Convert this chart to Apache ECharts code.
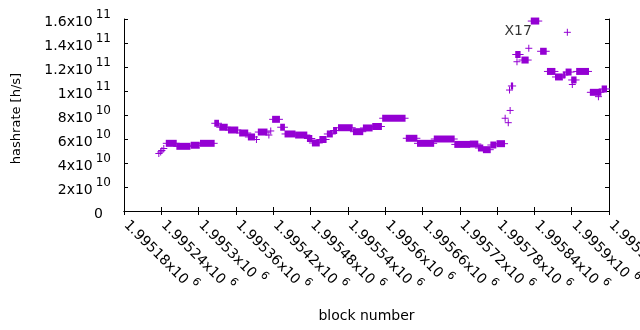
<!DOCTYPE html>
<html><head><meta charset="utf-8">
<script src="https://cdn.jsdelivr.net/npm/echarts@6/dist/echarts.min.js"></script>
<style>html,body{margin:0;padding:0;background:#fff}#c{width:640px;height:330px}</style>
</head><body><div id="c"></div>
<script>
// Runs of consecutive blocks sharing one hashrate estimate (a single block when start == end)
const runStart = [1995236,1995239,1995241,1995244,1995248,1995265,1995288,1995303,1995326,1995334,1995348,1995366,1995380,1995393,1995396,1995413,1995416,1995419,1995432,1995439,1995456,1995475,1995483,1995495,1995507,1995517,1995525,1995549,1995565,1995580,1995596,1995634,1995652,1995679,1995712,1995737,1995750,1995758,1995770,1995780,1995793,1995798,1995800,1995801,1995803,1995810,1995812,1995820,1995831,1995835,1995850,1995861,1995874,1995887,1995891,1995893,1995900,1995901,1995908,1995930,1995943,1995949];
const runEnd   = [1995236,1995239,1995241,1995244,1995264,1995286,1995301,1995325,1995332,1995346,1995363,1995379,1995390,1995393,1995410,1995413,1995416,1995430,1995438,1995455,1995474,1995482,1995494,1995505,1995515,1995522,1995547,1995564,1995579,1995594,1995632,1995651,1995678,1995711,1995736,1995749,1995757,1995769,1995778,1995792,1995793,1995798,1995800,1995801,1995805,1995817,1995812,1995830,1995831,1995847,1995859,1995873,1995885,1995889,1995899,1995893,1995907,1995901,1995927,1995947,1995943,1995956];
const runHashrate = [47.9e9,49.2e9,50.4e9,52.1e9,56.4e9,53.9e9,54.8e9,56.4e9,73.1e9,69.8e9,67.5e9,65.0e9,61.7e9,59.6e9,65.8e9,63.3e9,66.7e9,76.4e9,69.8e9,64.2e9,63.3e9,60.4e9,56.7e9,59.6e9,64.2e9,67.1e9,69.4e9,66.1e9,69.2e9,70.4e9,77.3e9,60.6e9,56.4e9,60.0e9,55.5e9,55.8e9,52.5e9,51.1e9,55.0e9,56.1e9,77.3e9,73.6e9,100.8e9,83.8e9,104.2e9,130.4e9,124.4e9,125.8e9,135.6e9,158.3e9,133.1e9,116.3e9,111.7e9,113.3e9,115.8e9,148.9e9,109.2e9,105.4e9,116.3e9,98.9e9,95.3e9,101.7e9];

const xTickLabels = ['1.99518','1.99524','1.9953','1.99536','1.99542','1.99548','1.99554','1.9956','1.99566','1.99572','1.99578','1.99584','1.9959','1.99596'];
const xTickExponent = '6';
const yTickMantissas = ['0','2','4','6','8','1','1.2','1.4','1.6'];
const yTickExponents = ['','10','10','10','10','11','11','11','11'];

const annotationText = 'X17';
const annotationBlock = 1995814;
const annotationHashrate = 1.5e11;

const xMin = 1995180, xMax = 1995960, xStep = 60;
const yMin = 0, yMax = 1.6e11, yStep = 2e10;

const FONT = "'DejaVu Sans', sans-serif";
const COLOR = '#9400d3';

const richX = {
  m: {fontFamily: FONT, fontSize: 14, color: '#000', lineHeight: 20, verticalAlign: 'bottom'},
  s: {fontFamily: FONT, fontSize: 11, color: '#000', lineHeight: 20, verticalAlign: 'top', padding: [0, 0, 0, 4]}
};
const richY = {
  m: {fontFamily: FONT, fontSize: 14, color: '#000', lineHeight: 20, verticalAlign: 'bottom'},
  z: {fontFamily: FONT, fontSize: 14, color: '#000', lineHeight: 20, verticalAlign: 'bottom', padding: [0, 8, 0, 0]},
  s: {fontFamily: FONT, fontSize: 12, color: '#000', lineHeight: 20, verticalAlign: 'top', padding: [0, 0, 0, 3]}
};

const chart = echarts.init(document.getElementById('c'), null, {renderer: 'canvas'});
const runs = runStart.map((s, i) => [s, runEnd[i], runHashrate[i]]);

const tickCommon = {show: true, inside: true, length: 4, lineStyle: {color: '#000', width: 1}};
const lineCommon = {show: true, lineStyle: {color: '#000', width: 1}};

chart.setOption({
  animation: false,
  backgroundColor: '#fff',
  grid: {left: 124, right: 31, top: 19, bottom: 119, containLabel: false, outerBoundsMode: 'none'},
  xAxis: [{
    type: 'value', min: xMin, max: xMax, interval: xStep, position: 'bottom',
    axisLine: lineCommon, axisTick: tickCommon, splitLine: {show: false},
    axisLabel: {
      rotate: -45, margin: 14, rich: richX, padding: [0, 0, 12, 0],
      formatter: v => {
        const i = Math.round((v - xMin) / xStep);
        return '{m|' + xTickLabels[i] + 'x10}{s|' + xTickExponent + '}';
      }
    },
    name: 'block number', nameLocation: 'middle', nameGap: 98,
    nameTextStyle: {fontFamily: FONT, fontSize: 14, color: '#000'}
  }, {
    type: 'value', min: xMin, max: xMax, interval: xStep, position: 'top',
    axisLine: lineCommon, axisTick: tickCommon, splitLine: {show: false},
    axisLabel: {show: false}
  }],
  yAxis: [{
    type: 'value', min: yMin, max: yMax, interval: yStep, position: 'left',
    axisLine: lineCommon, axisTick: tickCommon, splitLine: {show: false},
    axisLabel: {
      margin: 13, rich: richY,
      formatter: v => {
        const i = Math.round((v - yMin) / yStep);
        if (!yTickExponents[i]) return '{z|' + yTickMantissas[i] + '}';
        return '{m|' + yTickMantissas[i] + 'x10}{s|' + yTickExponents[i] + '}';
      }
    },
    name: 'hashrate [h/s]', nameLocation: 'middle', nameGap: 101,
    nameTextStyle: {fontFamily: FONT, fontSize: 13, color: '#000', padding: [0, 7, 0, 0]}
  }, {
    type: 'value', min: yMin, max: yMax, interval: yStep, position: 'right',
    axisLine: lineCommon, axisTick: tickCommon, splitLine: {show: false},
    axisLabel: {show: false}
  }],
  series: [{
    type: 'custom',
    data: runs,
    encode: {x: [0, 1], y: 2},
    clip: false,
    renderItem: (params, api) => {
      const a = api.coord([api.value(0), api.value(2)]);
      const b = api.coord([api.value(1), api.value(2)]);
      const h = 3.5;
      return {type: 'group', children: [
        {type: 'rect', shape: {x: a[0] - 0.5, y: a[1] - h, width: b[0] - a[0] + 1, height: 2 * h}, style: {fill: COLOR}},
        {type: 'rect', shape: {x: a[0] - h, y: a[1] - 0.5, width: b[0] - a[0] + 2 * h, height: 1}, style: {fill: COLOR}}
      ]};
    }
  }, {
    type: 'scatter',
    data: [[annotationBlock, annotationHashrate]],
    symbolSize: 1,
    itemStyle: {color: 'rgba(0,0,0,0)'},
    label: {show: true, position: 'inside', formatter: annotationText, fontFamily: FONT, fontSize: 14, color: '#000'},
    silent: true
  }]
});
</script></body></html>
